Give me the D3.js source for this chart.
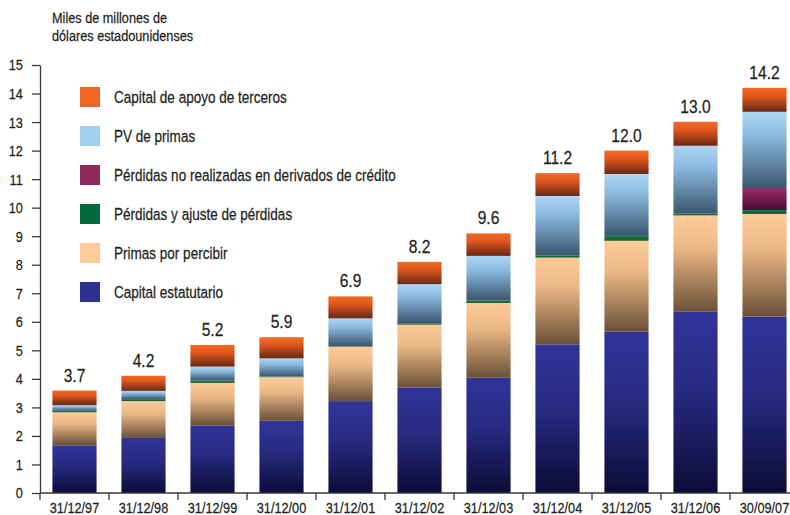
<!DOCTYPE html>
<html lang="es">
<head>
<meta charset="utf-8">
<title>Capital de las aseguradoras</title>
<script src="https://cdn.jsdelivr.net/npm/d3@7"></script>
<style>
  body { margin: 0; background: #fff; }
  svg text { font-family: "Liberation Sans", Arial, sans-serif; fill: #231f20; stroke: #231f20; stroke-width: 0.25px; }
</style>
</head>
<body>
<script>
// categories and series (miles de millones de USD)
var fechas = ["31/12/97", "31/12/98", "31/12/99", "31/12/00", "31/12/01", "31/12/02",
              "31/12/03", "31/12/04", "31/12/05", "31/12/06", "30/09/07"];
var capitalEstatutario = [1.67, 1.93, 2.37, 2.53, 3.22, 3.70, 4.04, 5.21, 5.65, 6.35, 6.18];
var primasPorPercibir  = [1.16, 1.29, 1.49, 1.53, 1.91, 2.20, 2.62, 3.04, 3.19, 3.38, 3.60];
var perdidasAjuste     = [0.05, 0.07, 0.08, 0.02, 0.02, 0.05, 0.09, 0.08, 0.17, 0.06, 0.14];
var perdidasNoReal     = [0, 0, 0, 0, 0, 0, 0, 0, 0, 0, 0.77];
var pvPrimas           = [0.20, 0.29, 0.49, 0.64, 0.97, 1.37, 1.56, 2.08, 2.17, 2.38, 2.67];
var capitalApoyo       = [0.51, 0.53, 0.76, 0.74, 0.77, 0.78, 0.79, 0.80, 0.82, 0.84, 0.84];
var totales = ["3.7", "4.2", "5.2", "5.9", "6.9", "8.2", "9.6", "11.2", "12.0", "13.0", "14.2"];
var yTicks = [0, 1, 2, 3, 4, 5, 6, 7, 8, 9, 10, 11, 12, 13, 14, 15];

var series = [
  {key: "capital", name: "Capital estatutario", values: capitalEstatutario,
   flat: "#2e3192", stops: [[0, "#30349a"], [0.45, "#262a7f"], [1, "#0c0b37"]]},
  {key: "primas", name: "Primas por percibir", values: primasPorPercibir,
   flat: "#fdca98", stops: [[0, "#fdcb99"], [0.35, "#eab684"], [1, "#6b5037"]]},
  {key: "ajuste", name: "Pérdidas y ajuste de pérdidas", values: perdidasAjuste,
   flat: "#00693e", stops: [[0, "#1d7a44"], [1, "#0f5a2e"]]},
  {key: "noreal", name: "Pérdidas no realizadas en derivados de crédito", values: perdidasNoReal,
   flat: "#8e2a5e", stops: [[0, "#9d2c6a"], [1, "#470b30"]]},
  {key: "pv", name: "PV de primas", values: pvPrimas,
   flat: "#a3d2f0", stops: [[0, "#acd6f4"], [0.3, "#8dbce2"], [1, "#3a566f"]]},
  {key: "apoyo", name: "Capital de apoyo de terceros", values: capitalApoyo,
   flat: "#f26522", stops: [[0, "#f26a24"], [0.35, "#df571f"], [1, "#692813"]]}
];

var width = 790, height = 515;
var narrow = 0.82;   // horizontal squeeze to mimic a condensed face

var svg = d3.select("body").append("svg")
    .attr("width", width)
    .attr("height", height);

var rows = fechas.map(function(f, i) {
  var r = {fecha: f};
  series.forEach(function(s) { r[s.key] = s.values[i]; });
  return r;
});

var x = d3.scaleBand()
    .domain(fechas)
    .range([40, 40 + 69 * fechas.length])
    .paddingInner(0.36)
    .paddingOuter(0.18);

var y = d3.scaleLinear()
    .domain([0, 15])
    .range([493, 65]);

function label(parent, px, py, size, txt, anchor) {
  return parent.append("text")
      .attr("transform", "translate(" + px + "," + py + ") scale(" + narrow + ",1)")
      .attr("text-anchor", anchor || "start")
      .style("font-size", size + "px")
      .text(txt);
}

var defs = svg.append("defs");
series.forEach(function(s) {
  var g = defs.append("linearGradient")
      .attr("id", "grad-" + s.key)
      .attr("x1", 0).attr("y1", 0).attr("x2", 0).attr("y2", 1);
  s.stops.forEach(function(st) {
    g.append("stop").attr("offset", st[0]).attr("stop-color", st[1]);
  });
});

// title
label(svg, 52, 23, 15.5, "Miles de millones de");
label(svg, 52, 41, 15.5, "dólares estadounidenses");

// bars
var stack = d3.stack().keys(series.map(function(s) { return s.key; }));
var stacked = stack(rows);

svg.append("g").selectAll("g")
  .data(stacked)
  .join("g")
    .attr("fill", function(d) { return "url(#grad-" + d.key + ")"; })
  .selectAll("rect")
  .data(function(d) { return d; })
  .join("rect")
    .filter(function(d) { return d[1] - d[0] > 0; })
    .attr("x", function(d) { return x(d.data.fecha); })
    .attr("width", x.bandwidth())
    .attr("y", function(d) { return y(d[1]); })
    .attr("height", function(d) { return y(d[0]) - y(d[1]); });

// totals above bars
var topLayer = stacked[stacked.length - 1];
var totG = svg.append("g");
topLayer.forEach(function(d, i) {
  label(totG, x(d.data.fecha) + x.bandwidth() / 2, y(d[1]) - 9, 19, totales[i], "middle");
});

// y axis
var yAxis = svg.append("g")
    .attr("transform", "translate(40,0)")
    .call(d3.axisLeft(y).tickValues(yTicks).tickSize(8).tickSizeOuter(0));
yAxis.selectAll("text")
    .attr("x", -21)
    .attr("transform", "scale(" + narrow + ",1)")
    .style("font-size", "15.5px");
yAxis.selectAll("line, path").attr("stroke", "#3a3a3a").attr("stroke-width", 1.3);

// x axis
var xAxis = svg.append("g")
    .attr("transform", "translate(0," + y(0) + ")")
    .call(d3.axisBottom(x).tickSize(0));
xAxis.select(".domain").attr("d", "M40,0H" + width)
    .attr("stroke", "#3a3a3a").attr("stroke-width", 1.3);
xAxis.selectAll("text")
    .attr("y", 20).attr("dy", 0)
    .attr("transform", "scale(" + narrow + ",1)")
    .style("font-size", "15.5px");
var gap = x.step() * x.paddingInner() / 2;
xAxis.selectAll(".sep")
  .data(fechas)
  .join("line")
    .attr("class", "sep")
    .attr("x1", function(d) { return x(d) - gap; })
    .attr("x2", function(d) { return x(d) - gap; })
    .attr("y1", 0).attr("y2", 7)
    .attr("stroke", "#3a3a3a").attr("stroke-width", 1.3);

// legend
var legend = svg.append("g").selectAll("g")
  .data(series.slice().reverse())
  .join("g")
    .attr("transform", function(d, i) { return "translate(80," + (87 + i * 39) + ")"; });
legend.append("rect")
    .attr("width", 20).attr("height", 20)
    .attr("fill", function(d) { return d.flat; });
legend.each(function(d) {
  label(d3.select(this), 34, 16, 16.5, d.name);
});
</script>
</body>
</html>
